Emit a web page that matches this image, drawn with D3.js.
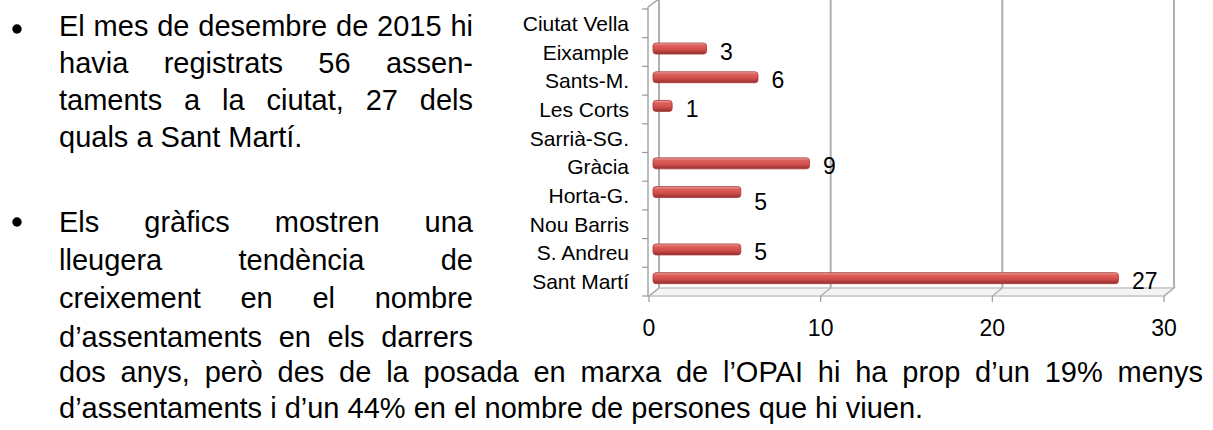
<!DOCTYPE html>
<html>
<head>
<meta charset="utf-8">
<script src="https://cdn.jsdelivr.net/npm/d3@7"></script>
<style>
body { margin: 0; background: #fff; }
svg { display: block; }
text { font-family: "Liberation Sans", Arial, sans-serif; fill: #000; }
</style>
</head>
<body>
<svg id="page" width="1213" height="430"></svg>
<script>
// chart data (assentaments per districte, desembre 2015)
var districts = ["Ciutat Vella", "Eixample", "Sants-M.", "Les Corts", "Sarrià-SG.",
                 "Gràcia", "Horta-G.", "Nou Barris", "S. Andreu", "Sant Martí"];
var settlements = [0, 3, 6, 1, 0, 9, 5, 0, 5, 27];
var xTicks = [0, 10, 20, 30];

// text around the chart
var bullet1 = ["El mes de desembre de 2015 hi",
               "havia registrats 56 assen-",
               "taments a la ciutat, 27 dels",
               "quals a Sant Martí."];
var bullet2 = ["Els gràfics mostren una",
               "lleugera tendència de",
               "creixement en el nombre",
               "d’assentaments en els darrers"];
var closing = ["dos anys, però des de la posada en marxa de l’OPAI hi ha prop d’un 19% menys",
               "d’assentaments i d’un 44% en el nombre de persones que hi viuen."];

var svg = d3.select("#page");

/* ---------- text block ---------- */
var txt = svg.append("g").style("font-size", "29px");

// writes one line, spreading the words when the line is justified
function setLine(str, x0, x1, base, justify) {
    if (!justify) {
        txt.append("text").attr("x", x0).attr("y", base).text(str);
        return;
    }
    var words = str.split(" ");
    var nodes = words.map(function (w) {
        return txt.append("text").attr("y", base).text(w);
    });
    var widths = nodes.map(function (n) { return n.node().getComputedTextLength(); });
    var gap = (x1 - x0 - d3.sum(widths)) / (words.length - 1);
    var cx = x0;
    nodes.forEach(function (n, i) {
        n.attr("x", cx);
        cx += widths[i] + gap;
    });
}

var base1 = [36, 73, 110, 147];
var base2 = [232, 270, 308, 347];
var base3 = [382, 418];

bullet1.forEach(function (l, i) { setLine(l, 59, 473, base1[i], i < bullet1.length - 1); });
bullet2.forEach(function (l, i) { setLine(l, 59, 473, base2[i], true); });
closing.forEach(function (l, i) { setLine(l, 59, 1203, base3[i], i < closing.length - 1); });

svg.selectAll("circle.bullet")
    .data([29, 222])
    .enter()
    .append("circle")
    .attr("class", "bullet")
    .attr("cx", 17)
    .attr("cy", function (d) { return d; })
    .attr("r", 4.7)
    .attr("fill", "#000");

/* ---------- chart ---------- */
var dx = 10, dy = -8;   // depth of the 3d walls

var x = d3.scaleLinear()
    .domain([0, 30])
    .range([649, 1164]);

var y = d3.scaleBand()
    .domain(districts)
    .range([9, 296]);

var floorY = y.range()[1];
var chart = svg.append("g");

var defs = svg.append("defs");
var grad = defs.append("linearGradient")
    .attr("id", "barGrad")
    .attr("x1", 0).attr("y1", 0).attr("x2", 0).attr("y2", 1);
grad.append("stop").attr("offset", "0%").attr("stop-color", "#eeaaa8");
grad.append("stop").attr("offset", "22%").attr("stop-color", "#e0605c");
grad.append("stop").attr("offset", "60%").attr("stop-color", "#cf4d4a");
grad.append("stop").attr("offset", "100%").attr("stop-color", "#93302e");

// floor
chart.append("path")
    .attr("d", "M" + x(0) + "," + floorY +
               "L" + x(30) + "," + floorY +
               "L" + (x(30) + dx) + "," + (floorY + dy) +
               "L" + (x(0) + dx) + "," + (floorY + dy) + "Z")
    .attr("fill", "#f4f4f4")
    .attr("stroke", "#c4c4c4")
    .attr("stroke-width", 1.5);

// back wall gridlines and their diagonals to the front
chart.selectAll("line.grid")
    .data(xTicks)
    .enter()
    .append("line")
    .attr("class", "grid")
    .attr("x1", function (d) { return x(d) + dx; })
    .attr("x2", function (d) { return x(d) + dx; })
    .attr("y1", 0)
    .attr("y2", floorY + dy)
    .attr("stroke", "#b0b0b0")
    .attr("stroke-width", 2);

chart.selectAll("line.diag")
    .data(xTicks)
    .enter()
    .append("line")
    .attr("class", "diag")
    .attr("x1", function (d) { return x(d); })
    .attr("x2", function (d) { return x(d) + dx; })
    .attr("y1", floorY)
    .attr("y2", floorY + dy)
    .attr("stroke", "#b0b0b0")
    .attr("stroke-width", 1.5);

// left wall: front edge + top diagonal
chart.append("line")
    .attr("x1", x(0) - 1).attr("x2", x(0) - 1)
    .attr("y1", y.range()[0] - 2).attr("y2", floorY)
    .attr("stroke", "#a6a6a6").attr("stroke-width", 1.5);
chart.append("line")
    .attr("x1", x(0) - 1).attr("x2", x(0) + dx)
    .attr("y1", y.range()[0] - 2).attr("y2", y.range()[0] - 2 + dy)
    .attr("stroke", "#a6a6a6").attr("stroke-width", 1.5);

// y ticks at band edges
var edges = districts.map(function (d) { return y(d); }).concat([floorY]);
chart.selectAll("line.ytick")
    .data(edges)
    .enter()
    .append("line")
    .attr("class", "ytick")
    .attr("x1", x(0) - 7).attr("x2", x(0) - 1)
    .attr("y1", function (d) { return d; })
    .attr("y2", function (d) { return d; })
    .attr("stroke", "#9a9a9a").attr("stroke-width", 1.2);

// x ticks
chart.selectAll("line.xtick")
    .data(xTicks)
    .enter()
    .append("line")
    .attr("class", "xtick")
    .attr("x1", function (d) { return x(d); })
    .attr("x2", function (d) { return x(d); })
    .attr("y1", floorY).attr("y2", floorY + 6)
    .attr("stroke", "#9a9a9a").attr("stroke-width", 1.2);

// bars
var barH = 11;
var shown = districts.map(function (d, i) { return { name: d, v: settlements[i] }; })
    .filter(function (d) { return d.v > 0; });

chart.selectAll("rect.bar")
    .data(shown)
    .enter()
    .append("rect")
    .attr("class", "bar")
    .attr("x", x(0) + 4)
    .attr("y", function (d) { return y(d.name) + y.bandwidth() / 2 - 3.5 - barH / 2; })
    .attr("width", function (d) { return x(d.v) - x(0) + 2; })
    .attr("height", barH)
    .attr("rx", 3)
    .attr("fill", "url(#barGrad)")
    .attr("stroke", "#a83a38")
    .attr("stroke-width", 0.8);

// value labels (Horta-G. sits a bit lower in the original)
var labelNudge = { "Horta-G.": 7 };
chart.selectAll("text.val")
    .data(shown)
    .enter()
    .append("text")
    .attr("class", "val")
    .attr("x", function (d) { return x(d.v) + 19.5; })
    .attr("y", function (d) {
        return y(d.name) + y.bandwidth() / 2 + 7.5 + (labelNudge[d.name] || 0);
    })
    .style("font-size", "23px")
    .text(function (d) { return d.v; });

// category labels
chart.selectAll("text.cat")
    .data(districts)
    .enter()
    .append("text")
    .attr("class", "cat")
    .attr("x", 629)
    .attr("y", function (d) { return y(d) + y.bandwidth() / 2 + 7.5; })
    .attr("text-anchor", "end")
    .style("font-size", "21px")
    .text(function (d) { return d; });

// x tick labels
chart.selectAll("text.xlab")
    .data(xTicks)
    .enter()
    .append("text")
    .attr("class", "xlab")
    .attr("x", function (d) { return x(d); })
    .attr("y", 336)
    .attr("text-anchor", "middle")
    .style("font-size", "23px")
    .text(function (d) { return d; });
</script>
</body>
</html>
